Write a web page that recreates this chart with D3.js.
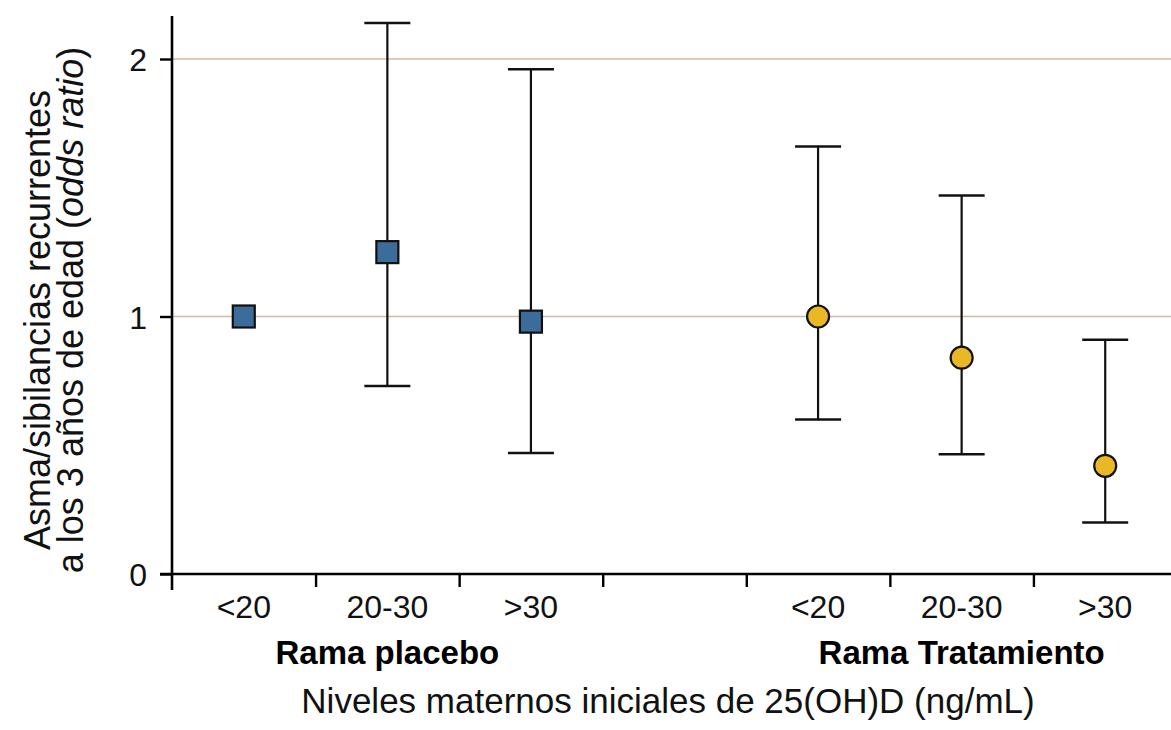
<!DOCTYPE html>
<html>
<head>
<meta charset="utf-8">
<script src="https://cdn.jsdelivr.net/npm/d3@7"></script>
<style>
body { margin: 0; background: #ffffff; }
text { font-family: "Liberation Sans", Arial, Helvetica, sans-serif; }
</style>
</head>
<body>
<div id="divForChart"></div>
<script>
var width = 1171;
var height = 730;

// data
var slots = ["p1", "p2", "p3", "gap", "t1", "t2", "t3"];
var slotLabels = ["<20", "20-30", ">30", "", "<20", "20-30", ">30"];
var placeboKeys = ["p1", "p2", "p3"];
var placeboOR = [1.0, 1.25, 0.98];
var placeboLow = [null, 0.73, 0.47];
var placeboHigh = [null, 2.14, 1.96];
var treatKeys = ["t1", "t2", "t3"];
var treatOR = [1.0, 0.84, 0.42];
var treatLow = [0.60, 0.465, 0.20];
var treatHigh = [1.66, 1.47, 0.91];
var yTicks = [0, 1, 2];
var gridValues = [1, 2];
var groups = [["Rama placebo", "p2"], ["Rama Tratamiento", "t2"]];

var axisX = 172;
var axisY = 574;
var capWidth = 46;
var squareSize = 22;
var circleRadius = 11;

var svg = d3.select("#divForChart").append("svg")
	.attr("width", width)
	.attr("height", height);

var x = d3.scaleBand().domain(slots).range([axisX, 1177]).paddingInner(0).paddingOuter(0);
var xEdge = d3.scaleLinear().domain([0, slots.length]).range([axisX, 1177]);
var y = d3.scaleLinear().domain([0, 2.167]).range([axisY, 16]);

function cx(k) { return x(k) + x.bandwidth() / 2; }

// reference lines
svg.selectAll(".grid").data(gridValues).enter().append("line")
	.attr("class", "grid")
	.attr("x1", axisX).attr("x2", width)
	.attr("y1", function(d) { return y(d); })
	.attr("y2", function(d) { return y(d); })
	.attr("stroke", "#d6b6a4")
	.attr("stroke-width", 1.6);

// y axis
var yAxis = svg.append("g")
	.attr("transform", "translate(" + axisX + ",0)")
	.call(d3.axisLeft(y).tickValues(yTicks).tickFormat(d3.format("d")).tickSize(12).tickPadding(13));
yAxis.select(".domain").remove();
yAxis.selectAll(".tick line").attr("stroke", "#000").attr("stroke-width", 2.4);
yAxis.selectAll(".tick text").attr("fill", "#111").style("font-size", "32px")
	.style("font-family", "'Liberation Sans', Arial, sans-serif").attr("dy", "0.36em");
svg.append("line")
	.attr("x1", axisX).attr("x2", axisX)
	.attr("y1", 16).attr("y2", axisY + 16)
	.attr("stroke", "#000").attr("stroke-width", 2.6);

// x axis: ticks at slot edges
var xAxis = svg.append("g")
	.attr("transform", "translate(0," + axisY + ")")
	.call(d3.axisBottom(xEdge).tickValues(d3.range(1, slots.length + 1)).tickFormat("").tickSize(13).tickSizeOuter(0));
xAxis.select(".domain").remove();
xAxis.selectAll(".tick line").attr("stroke", "#000").attr("stroke-width", 2.4);
svg.append("line")
	.attr("x1", axisX - 12).attr("x2", width)
	.attr("y1", axisY).attr("y2", axisY)
	.attr("stroke", "#000").attr("stroke-width", 2.6);

svg.selectAll(".slotLabel").data(slots).enter().append("text")
	.attr("class", "slotLabel")
	.attr("x", function(d) { return cx(d); })
	.attr("y", 618)
	.attr("text-anchor", "middle")
	.attr("fill", "#111")
	.style("font-size", "32px")
	.text(function(d, i) { return slotLabels[i]; });

svg.selectAll(".groupLabel").data(groups).enter().append("text")
	.attr("class", "groupLabel")
	.attr("x", function(d) { return cx(d[1]); })
	.attr("y", 664)
	.attr("text-anchor", "middle")
	.attr("fill", "#000")
	.style("font-size", "33px")
	.style("font-weight", "bold")
	.text(function(d) { return d[0]; });

svg.append("text")
	.attr("x", 668)
	.attr("y", 713)
	.attr("text-anchor", "middle")
	.attr("fill", "#111")
	.style("font-size", "35px")
	.text("Niveles maternos iniciales de 25(OH)D (ng/mL)");

// y title
var yTitle = svg.append("text")
	.attr("transform", "translate(50,310) rotate(-90)")
	.attr("text-anchor", "middle")
	.attr("fill", "#111")
	.style("font-size", "36px");
yTitle.append("tspan").attr("x", -10).attr("y", 0).text("Asma/sibilancias recurrentes");
var line2 = yTitle.append("tspan").attr("x", 0).attr("y", 33);
line2.append("tspan").text("a los 3 años de edad (");
line2.append("tspan").style("font-style", "italic").text("odds ratio");
line2.append("tspan").text(")");

// error bars
function drawBars(keys, low, high, cls)
{
	var rows = [];
	for (var i = 0; i < keys.length; i++)
	{
		if (low[i] != null) rows.push([keys[i], low[i], high[i]]);
	}
	var g = svg.append("g").attr("class", cls);
	g.selectAll(".stem").data(rows).enter().append("line")
		.attr("x1", function(d) { return cx(d[0]); })
		.attr("x2", function(d) { return cx(d[0]); })
		.attr("y1", function(d) { return y(d[1]); })
		.attr("y2", function(d) { return y(d[2]); })
		.attr("stroke", "#111").attr("stroke-width", 2.2);
	g.selectAll(".capLow").data(rows).enter().append("line")
		.attr("x1", function(d) { return cx(d[0]) - capWidth / 2; })
		.attr("x2", function(d) { return cx(d[0]) + capWidth / 2; })
		.attr("y1", function(d) { return y(d[1]); })
		.attr("y2", function(d) { return y(d[1]); })
		.attr("stroke", "#111").attr("stroke-width", 2.4);
	g.selectAll(".capHigh").data(rows).enter().append("line")
		.attr("x1", function(d) { return cx(d[0]) - capWidth / 2; })
		.attr("x2", function(d) { return cx(d[0]) + capWidth / 2; })
		.attr("y1", function(d) { return y(d[2]); })
		.attr("y2", function(d) { return y(d[2]); })
		.attr("stroke", "#111").attr("stroke-width", 2.4);
}

drawBars(placeboKeys, placeboLow, placeboHigh, "placeboBars");
drawBars(treatKeys, treatLow, treatHigh, "treatBars");

// markers
svg.selectAll(".square").data(placeboKeys).enter().append("rect")
	.attr("class", "square")
	.attr("x", function(d) { return cx(d) - squareSize / 2; })
	.attr("y", function(d, i) { return y(placeboOR[i]) - squareSize / 2; })
	.attr("width", squareSize)
	.attr("height", squareSize)
	.attr("fill", "#3b6c9a")
	.attr("stroke", "#111")
	.attr("stroke-width", 2.2);

svg.selectAll(".dot").data(treatKeys).enter().append("circle")
	.attr("class", "dot")
	.attr("cx", function(d) { return cx(d); })
	.attr("cy", function(d, i) { return y(treatOR[i]); })
	.attr("r", circleRadius)
	.attr("fill", "#e9b824")
	.attr("stroke", "#111")
	.attr("stroke-width", 2.2);
</script>
</body>
</html>
